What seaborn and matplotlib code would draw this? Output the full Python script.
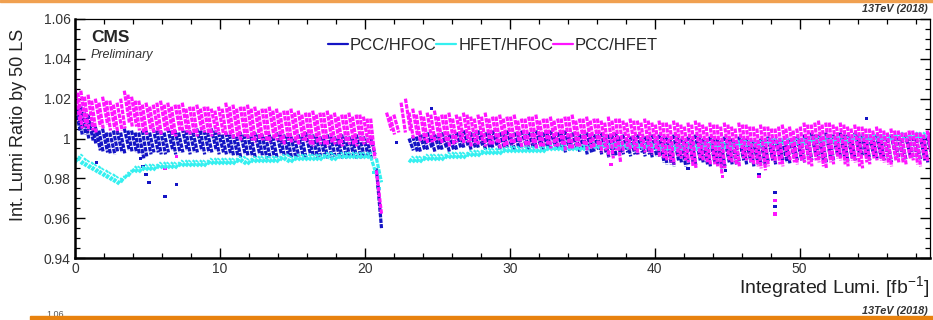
import numpy as np
import pandas as pd
import matplotlib
matplotlib.use("Agg")
import matplotlib.pyplot as plt
from matplotlib.lines import Line2D
from matplotlib.patches import Rectangle
from matplotlib.ticker import MultipleLocator, FuncFormatter
import seaborn as sns

nan = np.nan

# ---- data: fills, set 1 (start / end integrated lumi) ---------------------------
fill_x0 = [
    0.0, 0.4, 0.9, 1.4, 1.9, 2.4, 2.9, 3.4, 3.9, 4.4, 4.9, 5.4, 5.9, 6.4, 6.9, 7.4, 7.9, 8.4, 8.9, 9.4, 9.9,
    10.4, 10.9, 11.4, 11.9, 12.4, 12.9, 13.4, 13.9, 14.4, 14.9, 15.4, 15.9, 16.4, 16.9, 17.4, 17.9, 18.4, 18.9, 19.4, 19.9,
    20.8, 21.5, 22.0,
    22.8, 23.3, 23.8, 24.3, 24.8, 25.3, 25.8, 26.3, 26.8, 27.3, 27.8, 28.3, 28.8, 29.3, 29.8, 30.3, 30.8, 31.3, 31.8, 32.3,
    32.8, 33.3, 33.8, 34.3, 34.8, 35.3, 35.8, 36.3, 36.8, 37.3, 37.8, 38.3, 38.8, 39.3, 39.8,
    40.3, 40.8, 41.3, 41.8, 42.3, 42.8, 43.3, 43.8, 44.3, 44.8, 45.3, 45.8, 46.3, 46.8, 47.3, 47.8, 48.3, 48.8, 49.3, 49.8,
    50.3, 50.8, 51.3, 51.8, 52.3, 52.8, 53.3, 53.8, 54.3, 54.8, 55.3, 55.8, 56.3, 56.8, 57.3, 57.8, 58.3, 58.8,
]
fill_x1 = [
    0.35, 0.75, 1.25, 1.75, 2.25, 2.75, 3.25, 3.75, 4.25, 4.75, 5.25, 5.75, 6.25, 6.75, 7.25, 7.75, 8.25, 8.75, 9.25, 9.75, 10.25,
    10.75, 11.25, 11.75, 12.25, 12.75, 13.25, 13.75, 14.25, 14.75, 15.25, 15.75, 16.25, 16.75, 17.25, 17.75, 18.25, 18.75, 19.25, 19.75, 20.25,
    21.15, 21.85, 22.35,
    23.15, 23.65, 24.15, 24.65, 25.15, 25.65, 26.15, 26.65, 27.15, 27.65, 28.15, 28.65, 29.15, 29.65, 30.15, 30.65, 31.15, 31.65, 32.15, 32.65,
    33.15, 33.65, 34.15, 34.65, 35.15, 35.65, 36.15, 36.65, 37.15, 37.65, 38.15, 38.65, 39.15, 39.65, 40.15,
    40.65, 41.15, 41.65, 42.15, 42.65, 43.15, 43.65, 44.15, 44.65, 45.15, 45.65, 46.15, 46.65, 47.15, 47.65, 48.15, 48.65, 49.15, 49.65, 50.15,
    50.65, 51.15, 51.65, 52.15, 52.65, 53.15, 53.65, 54.15, 54.65, 55.15, 55.65, 56.15, 56.65, 57.15, 57.65, 58.15, 58.65, 59.15,
]
pcc_hfet_y0 = [
    1.025, 1.024, 1.022, 1.020, 1.021, 1.019, 1.018, 1.024, 1.021, 1.019, 1.018, 1.017, 1.019, 1.018, 1.017, 1.018, 1.016, 1.017, 1.016, 1.015, 1.016,
    1.018, 1.017, 1.016, 1.017, 1.016, 1.015, 1.016, 1.015, 1.014, 1.015, 1.014, 1.013, 1.014, 1.013, 1.014, 1.013, 1.012, 1.013, 1.012, 1.011,
    0.984, 1.013, 1.012,
    1.020, 1.015, 1.014, 1.013, 1.014, 1.012, 1.013, 1.012, 1.013, 1.011, 1.012, 1.013, 1.011, 1.012, 1.011, 1.012, 1.010, 1.011, 1.012, 1.010,
    1.011, 1.010, 1.011, 1.012, 1.010, 1.011, 1.010, 1.009, 1.011, 1.010, 1.009, 1.010, 1.009, 1.010, 1.008,
    1.009, 1.008, 1.009, 1.007, 1.008, 1.009, 1.007, 1.008, 1.007, 1.008, 1.006, 1.008, 1.007, 1.006, 1.007, 1.006, 1.005, 1.007, 1.006, 1.005,
    1.008, 1.007, 1.009, 1.008, 1.007, 1.008, 1.006, 1.007, 1.006, 1.005, 1.006, 1.004, 1.005, 1.004, 1.003, 1.004, 1.003, 1.004,
]
pcc_hfet_y1 = [
    1.008, 1.006, 1.004, 1.006, 1.007, 1.005, 1.004, 1.008, 1.006, 1.003, 1.004, 1.003, 1.004, 1.002, 1.004, 1.003, 1.002, 1.004, 1.002, 1.003, 1.002,
    1.001, 1.000, 1.001, 0.999, 1.000, 0.999, 1.000, 0.998, 0.999, 0.998, 0.999, 0.997, 0.998, 0.997, 0.998, 0.997, 0.998, 0.997, 0.998, 0.997,
    0.962, 1.004, 1.003,
    1.004, 1.001, 0.999, 0.998, 0.999, 0.998, 0.997, 0.999, 0.998, 0.997, 0.998, 0.997, 0.998, 0.996, 0.997, 0.998, 0.996, 0.997, 0.996, 0.997,
    0.996, 0.997, 0.995, 0.996, 0.997, 0.995, 0.996, 0.994, 0.990, 0.988, 0.995, 0.994, 0.995, 0.993, 0.994,
    0.990, 0.988, 0.991, 0.989, 0.986, 0.990, 0.988, 0.987, 0.982, 0.989, 0.987, 0.990, 0.988, 0.986, 0.984, 0.989, 0.987, 0.990, 0.988, 0.989,
    0.987, 0.989, 0.986, 0.988, 0.990, 0.987, 0.989, 0.986, 0.988, 0.990, 0.989, 0.987, 0.989, 0.988, 0.990, 0.987, 0.989, 0.990,
]
pcc_hfoc_y0 = [
    1.017, 1.016, 1.012, 1.006, 1.005, 1.003, 1.004, 1.005, 1.004, 1.003, 1.004, 1.005, 1.004, 1.005, 1.004, 1.005, 1.004, 1.005, 1.004, 1.005, 1.003,
    1.003, 1.002, 1.003, 1.002, 1.003, 1.002, 1.002, 1.003, 1.002, 1.001, 1.002, 1.003, 1.002, 1.001, 1.002, 1.001, 1.002, 1.001, 1.002, 1.001,
    0.985, nan, nan,
    nan, 1.001, 1.002, 1.003, 1.002, 1.003, 1.002, 1.003, 1.004, 1.003, 1.004, 1.003, 1.004, 1.003, 1.004, 1.003, 1.004, 1.003, 1.004, 1.003,
    1.004, 1.003, 1.004, 1.003, 1.002, 1.003, 1.002, 1.003, 1.002, 1.003, 1.002, 1.001, 1.002, 1.001, 1.002,
    1.002, 1.001, 1.002, 1.000, 1.001, 1.002, 1.000, 1.001, 1.000, 1.001, 1.000, 1.001, 1.000, 0.999, 1.000, 1.001, 1.000, 0.999, 1.000, 1.001,
    1.002, 1.003, 1.002, 1.003, 1.002, 1.003, 1.002, 1.003, 1.002, 1.001, 1.002, 1.001, 1.002, 1.001, 1.002, 1.001, 1.002, 1.001,
]
pcc_hfoc_y1 = [
    1.004, 1.002, 0.999, 0.994, 0.993, 0.992, 0.993, 0.994, 0.993, 0.990, 0.992, 0.993, 0.992, 0.994, 0.993, 0.994, 0.993, 0.994, 0.993, 0.994, 0.993,
    0.992, 0.991, 0.992, 0.991, 0.992, 0.990, 0.991, 0.992, 0.991, 0.990, 0.991, 0.992, 0.990, 0.991, 0.990, 0.991, 0.990, 0.991, 0.990, 0.991,
    0.955, nan, nan,
    nan, 0.993, 0.994, 0.995, 0.994, 0.995, 0.994, 0.995, 0.996, 0.995, 0.996, 0.995, 0.996, 0.995, 0.996, 0.995, 0.996, 0.995, 0.996, 0.995,
    0.996, 0.995, 0.994, 0.995, 0.994, 0.993, 0.994, 0.993, 0.991, 0.992, 0.993, 0.992, 0.993, 0.992, 0.991,
    0.988, 0.987, 0.989, 0.986, 0.988, 0.989, 0.987, 0.988, 0.985, 0.988, 0.987, 0.989, 0.988, 0.987, 0.986, 0.989, 0.990, 0.988, 0.990, 0.989,
    0.990, 0.991, 0.989, 0.990, 0.991, 0.989, 0.990, 0.992, 0.990, 0.991, 0.990, 0.989, 0.991, 0.990, 0.991, 0.990, 0.989, 0.991,
]
hfet_hfoc_y0 = [
    0.988, 0.987, 0.985, 0.983, 0.981, 0.979, 0.977, 0.980, 0.983, 0.983, 0.984, 0.984, 0.985, 0.985, 0.985, 0.986, 0.986, 0.986, 0.986, 0.987, 0.987,
    0.987, 0.987, 0.988, 0.987, 0.988, 0.988, 0.988, 0.988, 0.989, 0.988, 0.989, 0.989, 0.989, 0.989, 0.990, 0.989, 0.990, 0.990, 0.990, 0.990,
    0.990, nan, nan,
    nan, 0.988, 0.988, 0.989, 0.989, 0.989, 0.990, 0.990, 0.990, 0.991, 0.991, 0.992, 0.992, 0.992, 0.993, 0.993, 0.993, 0.993, 0.993, 0.993,
    0.994, 0.994, 0.994, 0.994, 0.994, 0.994, 0.995, 0.995, 0.995, 0.995, 0.995, 0.995, 0.995, 0.995, 0.995,
    0.994, 0.994, 0.994, 0.994, 0.995, 0.994, 0.995, 0.995, 0.995, 0.995, 0.995, 0.996, 0.996, 0.996, 0.996, 0.997, 0.997, 0.997, 0.997, 0.997,
    0.997, 0.998, 0.998, 0.998, 0.998, 0.998, 0.998, 0.999, 0.999, 0.999, 0.999, 0.999, 0.999, 1.000, 0.999, 1.000, 1.000, 1.000,
]
hfet_hfoc_y1 = [
    0.991, 0.990, 0.988, 0.986, 0.984, 0.982, 0.980, 0.983, 0.986, 0.986, 0.987, 0.987, 0.988, 0.988, 0.988, 0.989, 0.989, 0.989, 0.989, 0.990, 0.990,
    0.990, 0.990, 0.991, 0.990, 0.991, 0.991, 0.991, 0.991, 0.992, 0.991, 0.992, 0.992, 0.992, 0.992, 0.993, 0.992, 0.993, 0.993, 0.993, 0.993,
    0.978, nan, nan,
    nan, 0.991, 0.991, 0.992, 0.992, 0.992, 0.993, 0.993, 0.993, 0.994, 0.994, 0.995, 0.995, 0.995, 0.996, 0.996, 0.996, 0.996, 0.996, 0.996,
    0.997, 0.997, 0.997, 0.997, 0.997, 0.997, 0.998, 0.998, 0.998, 0.998, 0.998, 0.998, 0.998, 0.998, 0.998,
    0.997, 0.997, 0.997, 0.997, 0.998, 0.997, 0.998, 0.998, 0.998, 0.998, 0.998, 0.999, 0.999, 0.999, 0.999, 1.000, 1.000, 1.000, 1.000, 1.000,
    1.000, 1.001, 1.001, 1.001, 1.001, 1.001, 1.001, 1.002, 1.002, 1.002, 1.002, 1.002, 1.002, 1.003, 1.002, 1.003, 1.003, 1.003,
]

# ---- data: fills, set 2 (interleaved) ----------------------------------------
fill2_x0 = [
    0.2, 0.65, 1.15, 1.65, 2.15, 2.65, 3.15, 3.65, 4.15, 4.65, 5.15, 5.65, 6.15, 6.65, 7.15, 7.65, 8.15, 8.65, 9.15, 9.65, 10.15,
    10.65, 11.15, 11.65, 12.15, 12.65, 13.15, 13.65, 14.15, 14.65, 15.15, 15.65, 16.15, 16.65, 17.15, 17.65, 18.15, 18.65, 19.15, 19.65, 20.15,
    20.4, 21.75, 22.5,
    23.05, 23.55, 24.05, 24.55, 25.05, 25.55, 26.05, 26.55, 27.05, 27.55, 28.05, 28.55, 29.05, 29.55, 30.05, 30.55, 31.05, 31.55, 32.05, 32.55,
    33.05, 33.55, 34.05, 34.55, 35.05, 35.55, 36.05, 36.55, 37.05, 37.55, 38.05, 38.55, 39.05, 39.55, 40.05,
    40.55, 41.05, 41.55, 42.05, 42.55, 43.05, 43.55, 44.05, 44.55, 45.05, 45.55, 46.05, 46.55, 47.05, 47.55, 48.05, 48.55, 49.05, 49.55, 50.05,
    50.55, 51.05, 51.55, 52.05, 52.55, 53.05, 53.55, 54.05, 54.55, 55.05, 55.55, 56.05, 56.55, 57.05, 57.55, 58.05, 58.55, 58.9,
]
fill2_x1 = [
    0.5, 0.95, 1.45, 1.95, 2.45, 2.95, 3.45, 3.95, 4.45, 4.95, 5.45, 5.95, 6.45, 6.95, 7.45, 7.95, 8.45, 8.95, 9.45, 9.95, 10.45,
    10.95, 11.45, 11.95, 12.45, 12.95, 13.45, 13.95, 14.45, 14.95, 15.45, 15.95, 16.45, 16.95, 17.45, 17.95, 18.45, 18.95, 19.45, 19.95, 20.45,
    20.7, 22.05, 22.8,
    23.35, 23.85, 24.35, 24.85, 25.35, 25.85, 26.35, 26.85, 27.35, 27.85, 28.35, 28.85, 29.35, 29.85, 30.35, 30.85, 31.35, 31.85, 32.35, 32.85,
    33.35, 33.85, 34.35, 34.85, 35.35, 35.85, 36.35, 36.85, 37.35, 37.85, 38.35, 38.85, 39.35, 39.85, 40.35,
    40.85, 41.35, 41.85, 42.35, 42.85, 43.35, 43.85, 44.35, 44.85, 45.35, 45.85, 46.35, 46.85, 47.35, 47.85, 48.35, 48.85, 49.35, 49.85, 50.35,
    50.85, 51.35, 51.85, 52.35, 52.85, 53.35, 53.85, 54.35, 54.85, 55.35, 55.85, 56.35, 56.85, 57.35, 57.85, 58.35, 58.85, 59.2,
]
pcc_hfet2_y0 = [
    1.023, 1.021, 1.019, 1.018, 1.019, 1.017, 1.020, 1.022, 1.019, 1.017, 1.016, 1.018, 1.017, 1.016, 1.017, 1.015, 1.016, 1.015, 1.016, 1.014, 1.015,
    1.016, 1.015, 1.016, 1.015, 1.014, 1.015, 1.014, 1.013, 1.014, 1.013, 1.012, 1.013, 1.012, 1.013, 1.012, 1.011, 1.012, 1.011, 1.012, 1.010,
    1.010, 1.011, 1.018,
    1.013, 1.012, 1.011, 1.012, 1.011, 1.012, 1.010, 1.011, 1.012, 1.010, 1.011, 1.010, 1.011, 1.010, 1.011, 1.009, 1.010, 1.011, 1.009, 1.010,
    1.009, 1.010, 1.011, 1.009, 1.010, 1.009, 1.010, 1.008, 1.009, 1.010, 1.008, 1.009, 1.008, 1.009, 1.007,
    1.008, 1.007, 1.008, 1.006, 1.007, 1.008, 1.006, 1.007, 1.006, 1.007, 1.005, 1.007, 1.006, 1.005, 1.006, 1.005, 1.006, 1.005, 1.004, 1.006,
    1.007, 1.008, 1.007, 1.008, 1.006, 1.007, 1.005, 1.006, 1.005, 1.004, 1.005, 1.003, 1.004, 1.003, 1.004, 1.003, 1.002, 1.003,
]
pcc_hfet2_y1 = [
    1.005, 1.004, 1.003, 1.005, 1.004, 1.003, 1.005, 1.006, 1.004, 1.002, 1.003, 1.002, 1.003, 1.001, 1.003, 1.002, 1.001, 1.003, 1.001, 1.002, 1.001,
    1.000, 0.999, 1.000, 0.998, 0.999, 0.998, 0.999, 0.997, 0.998, 0.997, 0.998, 0.996, 0.997, 0.996, 0.997, 0.996, 0.997, 0.996, 0.997, 0.996,
    0.990, 1.002, 1.003,
    1.000, 0.998, 0.997, 0.998, 0.997, 0.996, 0.998, 0.997, 0.996, 0.997, 0.996, 0.997, 0.995, 0.996, 0.997, 0.995, 0.996, 0.995, 0.996, 0.995,
    0.996, 0.994, 0.995, 0.996, 0.994, 0.995, 0.993, 0.991, 0.994, 0.993, 0.994, 0.992, 0.993, 0.992, 0.991,
    0.989, 0.987, 0.990, 0.988, 0.985, 0.989, 0.987, 0.986, 0.985, 0.988, 0.986, 0.989, 0.987, 0.985, 0.986, 0.988, 0.986, 0.989, 0.987, 0.988,
    0.986, 0.988, 0.985, 0.987, 0.989, 0.986, 0.988, 0.985, 0.987, 0.989, 0.988, 0.986, 0.988, 0.987, 0.989, 0.986, 0.988, 0.989,
]
pcc_hfoc2_y0 = [
    1.015, 1.013, 1.008, 1.004, 1.003, 1.004, 1.003, 1.004, 1.003, 1.004, 1.003, 1.004, 1.003, 1.004, 1.003, 1.004, 1.003, 1.004, 1.003, 1.004, 1.002,
    1.002, 1.001, 1.002, 1.001, 1.002, 1.001, 1.001, 1.002, 1.001, 1.000, 1.001, 1.002, 1.001, 1.000, 1.001, 1.000, 1.001, 1.000, 1.001, 1.000,
    1.001, nan, nan,
    1.000, 1.001, 1.002, 1.001, 1.002, 1.001, 1.002, 1.003, 1.002, 1.003, 1.002, 1.003, 1.002, 1.003, 1.002, 1.003, 1.002, 1.003, 1.002, 1.003,
    1.002, 1.003, 1.002, 1.001, 1.002, 1.001, 1.002, 1.001, 1.002, 1.001, 1.000, 1.001, 1.000, 1.001, 1.000,
    1.001, 1.000, 1.001, 0.999, 1.000, 1.001, 0.999, 1.000, 0.999, 1.000, 0.999, 1.000, 0.999, 0.998, 0.999, 1.000, 0.999, 0.998, 0.999, 1.000,
    1.001, 1.002, 1.001, 1.002, 1.001, 1.002, 1.001, 1.002, 1.001, 1.000, 1.001, 1.000, 1.001, 1.000, 1.001, 1.000, 1.001, 1.000,
]
pcc_hfoc2_y1 = [
    1.002, 1.000, 0.997, 0.993, 0.992, 0.993, 0.992, 0.993, 0.992, 0.991, 0.993, 0.992, 0.993, 0.992, 0.993, 0.992, 0.993, 0.992, 0.993, 0.992, 0.992,
    0.991, 0.990, 0.991, 0.990, 0.991, 0.991, 0.990, 0.991, 0.990, 0.991, 0.990, 0.991, 0.991, 0.990, 0.991, 0.990, 0.991, 0.990, 0.991, 0.990,
    0.992, nan, nan,
    0.994, 0.993, 0.994, 0.993, 0.994, 0.993, 0.994, 0.995, 0.994, 0.995, 0.994, 0.995, 0.994, 0.995, 0.994, 0.995, 0.994, 0.995, 0.994, 0.995,
    0.994, 0.993, 0.994, 0.993, 0.992, 0.993, 0.992, 0.990, 0.991, 0.992, 0.991, 0.992, 0.991, 0.990, 0.991,
    0.987, 0.986, 0.988, 0.987, 0.986, 0.988, 0.986, 0.987, 0.986, 0.987, 0.988, 0.987, 0.986, 0.987, 0.988, 0.987, 0.989, 0.987, 0.989, 0.988,
    0.989, 0.990, 0.988, 0.989, 0.990, 0.988, 0.989, 0.991, 0.989, 0.990, 0.989, 0.988, 0.990, 0.989, 0.990, 0.989, 0.988, 0.990,
]
hfet_hfoc2_y0 = [
    0.989, 0.986, 0.984, 0.982, 0.980, 0.978, 0.978, 0.981, 0.983, 0.984, 0.984, 0.985, 0.985, 0.985, 0.986, 0.986, 0.986, 0.986, 0.987, 0.987, 0.987,
    0.987, 0.988, 0.987, 0.988, 0.988, 0.988, 0.988, 0.989, 0.988, 0.989, 0.989, 0.989, 0.989, 0.990, 0.989, 0.990, 0.990, 0.990, 0.990, 0.990,
    0.991, nan, nan,
    0.988, 0.988, 0.989, 0.989, 0.989, 0.990, 0.990, 0.990, 0.991, 0.991, 0.992, 0.992, 0.992, 0.993, 0.993, 0.993, 0.993, 0.993, 0.993, 0.994,
    0.994, 0.994, 0.994, 0.994, 0.994, 0.995, 0.995, 0.995, 0.995, 0.995, 0.995, 0.995, 0.995, 0.995, 0.994,
    0.994, 0.994, 0.994, 0.995, 0.994, 0.995, 0.995, 0.995, 0.995, 0.995, 0.996, 0.996, 0.996, 0.996, 0.997, 0.997, 0.997, 0.997, 0.997, 0.997,
    0.998, 0.998, 0.998, 0.998, 0.998, 0.998, 0.999, 0.999, 0.999, 0.999, 0.999, 0.999, 1.000, 0.999, 1.000, 1.000, 1.000, 1.000,
]
hfet_hfoc2_y1 = [
    0.992, 0.989, 0.987, 0.985, 0.983, 0.981, 0.981, 0.984, 0.986, 0.987, 0.987, 0.988, 0.988, 0.988, 0.989, 0.989, 0.989, 0.989, 0.990, 0.990, 0.990,
    0.990, 0.991, 0.990, 0.991, 0.991, 0.991, 0.991, 0.992, 0.991, 0.992, 0.992, 0.992, 0.992, 0.993, 0.992, 0.993, 0.993, 0.993, 0.993, 0.993,
    0.984, nan, nan,
    0.991, 0.991, 0.992, 0.992, 0.992, 0.993, 0.993, 0.993, 0.994, 0.994, 0.995, 0.995, 0.995, 0.996, 0.996, 0.996, 0.996, 0.996, 0.996, 0.997,
    0.997, 0.997, 0.997, 0.997, 0.997, 0.998, 0.998, 0.998, 0.998, 0.998, 0.998, 0.998, 0.998, 0.998, 0.997,
    0.997, 0.997, 0.997, 0.998, 0.997, 0.998, 0.998, 0.998, 0.998, 0.998, 0.999, 0.999, 0.999, 0.999, 1.000, 1.000, 1.000, 1.000, 1.000, 1.000,
    1.001, 1.001, 1.001, 1.001, 1.001, 1.001, 1.002, 1.002, 1.002, 1.002, 1.002, 1.002, 1.003, 1.002, 1.003, 1.003, 1.003, 1.003,
]

# isolated points
pcc_hfoc_out_x = [1.5, 4.5, 4.7, 4.9, 5.1, 6.2, 7.0, 22.2, 24.6, 42.3, 44.9, 47.2, 48.3, 48.3, 54.6]
pcc_hfoc_out_y = [0.988, 0.990, 0.986, 0.982, 0.978, 0.971, 0.977, 0.998, 1.015, 0.985, 0.984, 0.982, 0.973, 0.966, 1.010]
pcc_hfet_out_x = [6.2, 7.0, 37.0, 44.7, 47.2, 48.3, 48.3]
pcc_hfet_out_y = [0.985, 0.991, 0.987, 0.981, 0.981, 0.969, 0.962]
hfet_hfoc_out_x = [20.6, 20.9, 21.0]
hfet_hfoc_out_y = [0.983, 0.976, 0.975]

series_names = ["PCC/HFOC", "HFET/HFOC", "PCC/HFET"]
series_colors = ["#1414c4", "#35f0f0", "#ff14ff"]
x_ticks = [0, 10, 20, 30, 40, 50]
y_ticks = [0.94, 0.96, 0.98, 1.00, 1.02, 1.04, 1.06]

# ---- build long table --------------------------------------------------------
sets = [
    (fill_x0, fill_x1, {"PCC/HFOC": (pcc_hfoc_y0, pcc_hfoc_y1),
                        "HFET/HFOC": (hfet_hfoc_y0, hfet_hfoc_y1),
                        "PCC/HFET": (pcc_hfet_y0, pcc_hfet_y1)}),
    (fill2_x0, fill2_x1, {"PCC/HFOC": (pcc_hfoc2_y0, pcc_hfoc2_y1),
                          "HFET/HFOC": (hfet_hfoc2_y0, hfet_hfoc2_y1),
                          "PCC/HFET": (pcc_hfet2_y0, pcc_hfet2_y1)}),
]
rows = []
for k, (xs0, xs1, ser) in enumerate(sets):
    lens = [len(xs0), len(xs1)] + [len(a) for pair in ser.values() for a in pair]
    if len(set(lens)) != 1:
        raise SystemExit("length mismatch in set %d: %s" % (k, lens))
    for name in series_names:
        y0s, y1s = ser[name]
        for i, (a, b, ya, yb) in enumerate(zip(xs0, xs1, y0s, y1s)):
            if np.isnan(ya) or np.isnan(yb):
                continue
            uid = f"{k}-{i}"
            rows.append((name, uid, a, ya))
            rows.append((name, uid, b, yb))
df = pd.DataFrame(rows, columns=["series", "fill", "lumi", "ratio"])

out = pd.DataFrame({
    "series": (["PCC/HFOC"] * len(pcc_hfoc_out_x) + ["HFET/HFOC"] * len(hfet_hfoc_out_x)
               + ["PCC/HFET"] * len(pcc_hfet_out_x)),
    "lumi": pcc_hfoc_out_x + hfet_hfoc_out_x + pcc_hfet_out_x,
    "ratio": pcc_hfoc_out_y + hfet_hfoc_out_y + pcc_hfet_out_y,
})

# ---- style ----------------------------------------------------------------
sns.set_style("ticks")
plt.rcParams["font.family"] = ["Liberation Sans", "DejaVu Sans"]
plt.rcParams["mathtext.fontset"] = "custom"
plt.rcParams["mathtext.rm"] = "Liberation Sans"

W, H = 933, 320
fig = plt.figure(figsize=(W / 100, H / 100), dpi=100)
fig.patch.set_facecolor("white")
ax = fig.add_axes([75 / W, 1 - 258 / H, (930 - 75) / W, (258 - 19) / H])

palette = dict(zip(series_names, series_colors))
sns.lineplot(data=df, x="lumi", y="ratio", hue="series", hue_order=series_names,
             units="fill", estimator=None, sort=False, palette=palette,
             linewidth=2.3, linestyle=(0, (1.4, 0.35)), dash_capstyle="butt",
             legend=False, ax=ax)
sns.scatterplot(data=out, x="lumi", y="ratio", hue="series", hue_order=series_names,
                palette=palette, marker="s", s=6, linewidth=0, legend=False, ax=ax)

ax.set_xlim(0, 59)
ax.set_ylim(0.94, 1.06)
ax.set_xticks(x_ticks)
ax.set_yticks(y_ticks)
ax.xaxis.set_minor_locator(MultipleLocator(2))
ax.yaxis.set_minor_locator(MultipleLocator(0.005))
ax.yaxis.set_major_formatter(FuncFormatter(lambda v, p: "1" if abs(v - 1) < 1e-9 else f"{v:.2f}"))
ax.tick_params(which="both", direction="in", top=True, right=True, colors="black",
               labelcolor="#333333", labelsize=10)
ax.tick_params(which="major", length=7, width=1.0, pad=3)
ax.tick_params(which="minor", length=3.5, width=0.9)
ax.set_xlabel("")
ax.set_ylabel("")
for side in ["left", "bottom"]:
    ax.spines[side].set_linewidth(1.8)
for side in ["top", "right"]:
    ax.spines[side].set_linewidth(0.9)
for s in ax.spines.values():
    s.set_color("black")

# labels
fig.text(929 / W, 1 - 288 / H, "Integrated Lumi. [fb$^{-1}$]", ha="right", va="center",
         fontsize=14, color="#222222")
fig.text(19 / W, 1 - 125 / H, "Int. Lumi Ratio by 50 LS", rotation=90, ha="center",
         va="center", fontsize=13, color="#222222")

fig.text(91 / W, 1 - 38 / H, "CMS", weight="bold", fontsize=12.5, va="center", ha="left")
fig.text(91 / W, 1 - 55 / H, "Preliminary", style="italic", fontsize=9, va="center",
         ha="left", color="#333333")
fig.text(928 / W, 1 - 9 / H, "13TeV (2018)", style="italic", weight="bold", fontsize=7.8,
         ha="right", va="center", color="#333333")

handles = [Line2D([0], [0], color=c, lw=1.6) for c in series_colors]
fig.legend(handles, series_names, loc="center", bbox_to_anchor=(493 / W, 1 - 45 / H),
           ncol=3, frameon=False, fontsize=12, handlelength=1.2, handletextpad=0.1,
           columnspacing=0.0, borderpad=0)

# slide decorations
fig.patches.append(Rectangle((0, 1 - 1.5 / H), 1, 1.5 / H, transform=fig.transFigure,
                             color="#f0a050", zorder=5))
fig.text(55 / W, 1 / H, "1.06", ha="center", va="bottom", fontsize=6.5,
         color="#555555", zorder=1)
fig.patches.append(Rectangle((30 / W, 0), 1, 4 / H, transform=fig.transFigure,
                             color="#e8820e", zorder=6))
fig.text(928 / W, 1 - 311 / H, "13TeV (2018)", style="italic", weight="bold", fontsize=7.8,
         ha="right", va="center", color="#333333")

fig.savefig("out.png", dpi=100, facecolor="white")
